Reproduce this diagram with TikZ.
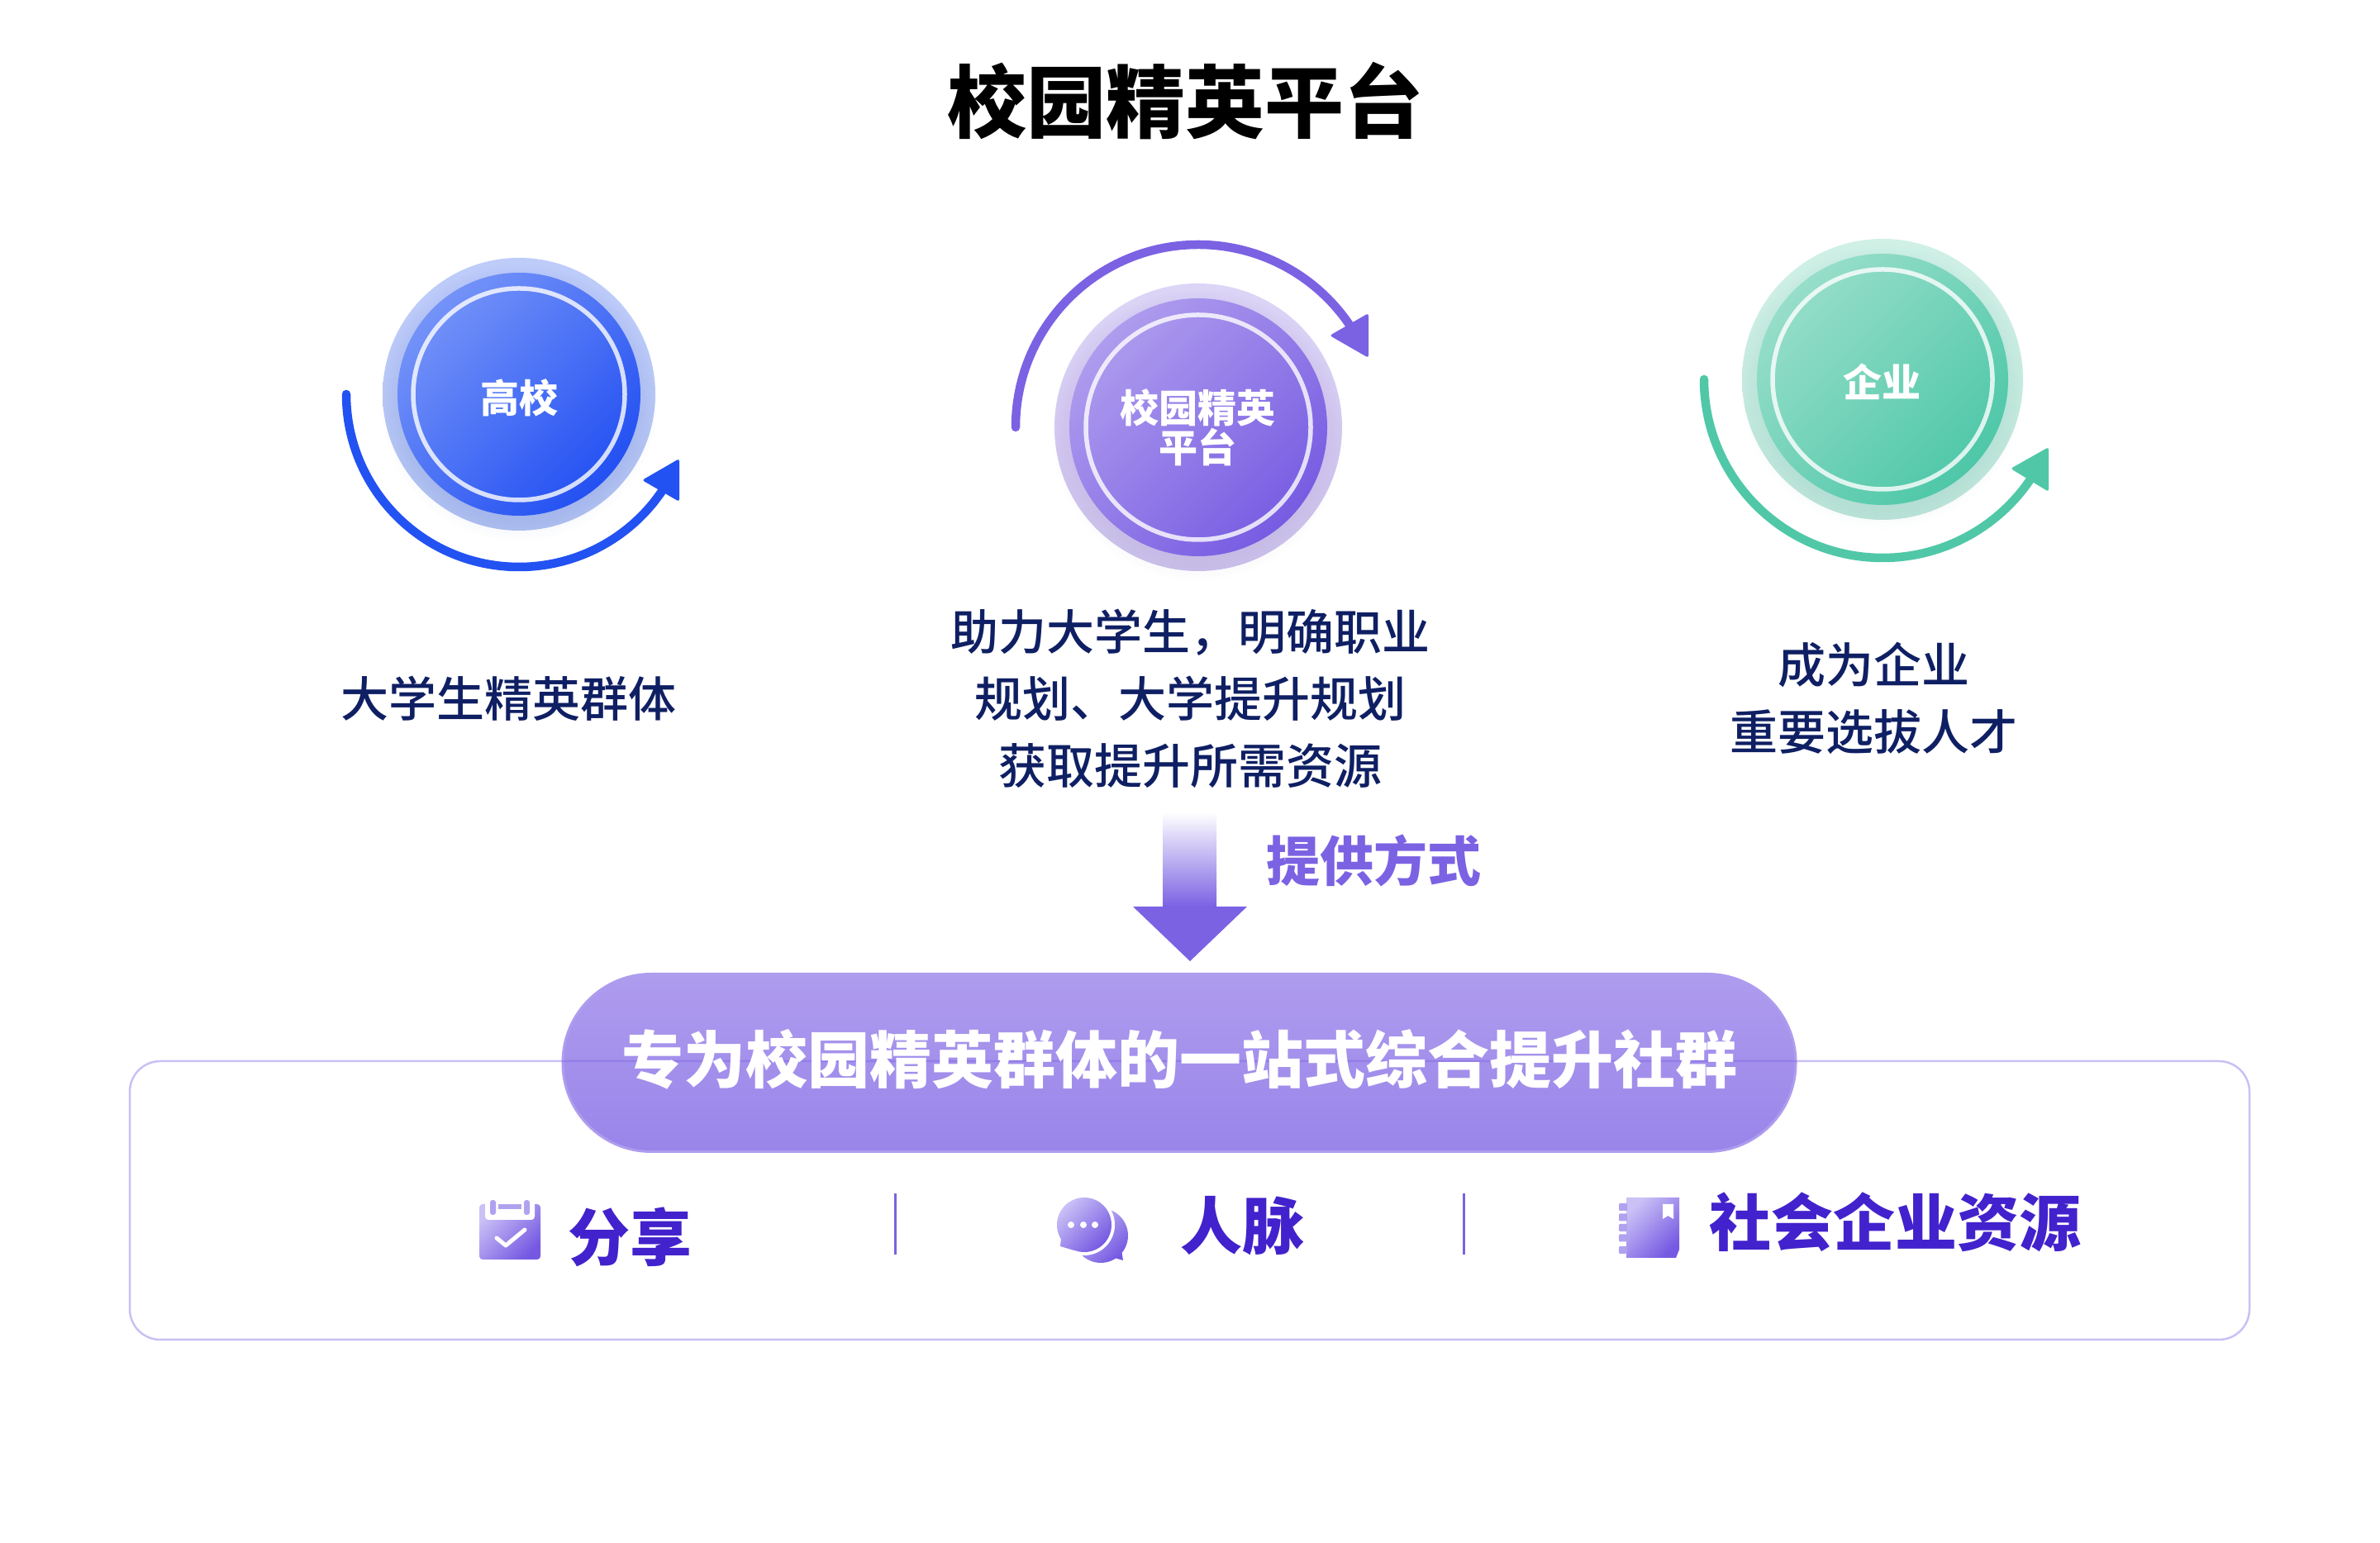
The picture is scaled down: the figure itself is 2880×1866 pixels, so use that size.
\documentclass[tikz,border=0pt]{standalone}
\usepackage{fontspec}
\setmainfont{Noto Sans CJK SC}
\newfontfamily\cjkmed{Noto Sans CJK SC Medium}
\usetikzlibrary{calc}

% Palette
\definecolor{blueTL}{HTML}{7493F8}
\definecolor{blueBR}{HTML}{2350F2}
\definecolor{blueTop}{HTML}{BECCFA}
\definecolor{blueBot}{HTML}{B2C4F2}
\definecolor{blueArc}{HTML}{2352F2}
\definecolor{violetTL}{HTML}{AE9CEE}
\definecolor{violetBR}{HTML}{775CE2}
\definecolor{violetTop}{HTML}{DCD5F6}
\definecolor{violetBot}{HTML}{CBC1EC}
\definecolor{violetArc}{HTML}{7B62E3}
\definecolor{greenTL}{HTML}{97DEC9}
\definecolor{greenBR}{HTML}{4EC7A8}
\definecolor{greenTop}{HTML}{D0F0E6}
\definecolor{greenBot}{HTML}{C0E5DA}
\definecolor{greenArc}{HTML}{50C8A8}
\definecolor{navy}{HTML}{0F1F63}
\definecolor{indigo}{HTML}{4222CC}
\definecolor{iconTL}{HTML}{CBC1F6}
\definecolor{iconBR}{HTML}{7559E2}

\tikzset{
  bodytext/.style={text=navy, align=center, inner sep=0pt, font=\cjkmed\fontsize{58}{81}\selectfont},
  coretext/.style={text=white, align=center, inner sep=0pt, font=\bfseries\fontsize{47}{48}\selectfont},
  itemtext/.style={text=indigo, inner sep=0pt, font=\bfseries\fontsize{75}{80}\selectfont},
  sweep/.style={line width=10.5pt, line cap=round},
  icon/.style={top color=iconTL, bottom color=iconBR, shading angle=45},
}

\begin{document}
\begin{tikzpicture}[x=1pt,y=1pt]

\useasboundingbox (0,0) rectangle (2880,1866);

% Centres of the three badges
\coordinate (H) at (628,1389);
\coordinate (P) at (1450,1349);
\coordinate (G) at (2278,1407);

% Badges: halo, soft shadow, disc, thin ring
\foreach \c/\name/\ra/\rb/\rc in {H/blue/165/147/128, P/violet/174/156/136, G/green/170/152/133}{
  \shade[top color=\name Top, bottom color=\name Bot] (\c) circle (\ra);
  \foreach \s in {-16,-12,...,20}
    \fill[\name Arc!70!black, opacity=0.007] ($(\c)+(0,-10)$) circle (\rb+\s);
  \shade[top color=\name TL, bottom color=\name BR, shading angle=45] (\c) circle (\rb);
  \draw[white, opacity=0.8, line width=5.5pt] (\c) circle (\rc);
}

% Sweeping arrows
\draw[sweep, blueArc] ([shift={(180:209)}]H) arc[start angle=180, end angle=327, radius=209];
\fill[blueArc, rounded corners=3pt] (822,1311) -- (822,1259) -- (777,1285) -- cycle;

\draw[sweep, violetArc] ([shift={(180:221)}]P) arc[start angle=180, end angle=33, radius=221];
\fill[violetArc, rounded corners=3pt] (1656,1487) -- (1656,1433) -- (1609,1460) -- cycle;

\draw[sweep, greenArc] ([shift={(180:216)}]G) arc[start angle=180, end angle=326, radius=216];
\fill[greenArc, rounded corners=3pt] (2479,1325) -- (2479,1271) -- (2433,1299) -- cycle;

% Title and badge labels
\node[inner sep=0pt, font=\bfseries\fontsize{96}{100}\selectfont] (title) at (1434,1744) {校园精英平台};
\node[coretext] (gaoxiao) at (628,1385) {高校};
\node[coretext] (pingtai) at (1449,1349) {校园精英\\平台};
\node[coretext] (qiye) at (2277,1404) {企业};

% Texts under the badges
\node[bodytext] (qunti) at (615,1021) {大学生精英群体};
\node[bodytext] (zhuli) at (1440,1021) {助力大学生，明确职业\\规划、大学提升规划\\获取提升所需资源};
\node[bodytext] (xuanba) at (2267,1021) {成为企业\\重要选拔人才};

% Down arrow
\shade[top color=white, bottom color=violetArc] (1407,883) rectangle (1472,769);
\fill[violetArc] (1371,769) -- (1509,769) -- (1440,703) -- cycle;
\node[text=violetArc, inner sep=0pt, font=\bfseries\fontsize{65}{70}\selectfont] (fangshi) at (1662,825) {提供方式};

% Pill, then the frame over it, then the text
\node[draw=violetTL, line width=3pt, rounded corners=107pt, top color=violetTL, bottom color=violetBR!75!white,
  minimum width=1492pt, minimum height=215pt] (pill) at (1427,580) {};
\draw[violetArc, opacity=0.4, line width=2.5pt, rounded corners=37pt] (157,582) rectangle (2722,245);
\node[text=white, inner sep=0pt, font=\bfseries\fontsize{75}{80}\selectfont] (pilltext) at (1427,584) {专为校园精英群体的一站式综合提升社群};

% Calendar icon
\shade[icon, rounded corners=4pt] (580,409) rectangle (654,342);
\fill[white, rounded corners=4pt] (587,412) rectangle (647,390);
\fill[iconTL!70!iconBR] (603,409) rectangle (631,403);
\fill[iconTL!70!iconBR, rounded corners=3pt] (593,414) rectangle (600,396);
\fill[iconTL!70!iconBR, rounded corners=3pt] (634,414) rectangle (641,396);
\draw[white, line width=5pt, line cap=round, line join=round] (601,368) -- (612,359) -- (635,378);

% Chat icon
\shade[icon] (1332,371) circle (33) (1345,345) -- (1359,341) -- (1356,360) -- cycle;
\fill[white] (1312,384) circle (37);
\shade[icon] (1312,384) circle (33) (1284,368) -- (1283,358) -- (1300,353) -- cycle;
\foreach \x in {1296,1311,1325}
  \fill[white] (\x,384) circle (4);

% Notebook icon
\shade[icon] (1968,417) -- (2032,417) -- (2032,354) -- (2028,344) -- (1968,344) -- cycle;
\foreach \y in {410,397.5,385,372.5,358}
  \fill[iconTL!70!iconBR, rounded corners=1pt] (1959,\y) rectangle (1969,\y-9);
\fill[white] (2012,409) -- (2025,409) -- (2025,391) -- (2018.5,395) -- (2012,391) -- cycle;

% Items and dividers
\node[itemtext] (fenxiang) at (762,369) {分享};
\node[itemtext] (renmai) at (1503,383) {人脉};
\node[itemtext] (ziyuan) at (2293,387) {社会企业资源};
\draw[violetArc, line width=3pt] (1083,422) -- (1083,348);
\draw[violetArc, line width=3pt] (1771,422) -- (1771,348);

\end{tikzpicture}
\end{document}
